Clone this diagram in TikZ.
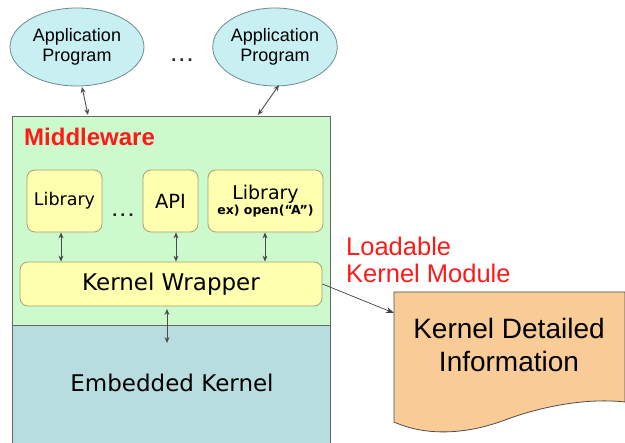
\documentclass[tikz,border=0pt]{standalone}
\usepackage{fontspec}
\setmainfont{Liberation Sans}
\newfontfamily\tahoma{DejaVu Sans}
\usetikzlibrary{arrows.meta,shapes.geometric}
\definecolor{mwgreen}{HTML}{CCFACC}
\definecolor{kblue}{HTML}{B8DDE0}
\definecolor{yel}{HTML}{FFFFB0}
\definecolor{yelborder}{HTML}{A8A070}
\definecolor{ecyan}{HTML}{C8F0F2}
\definecolor{eborder}{HTML}{6A8A90}
\definecolor{docorange}{HTML}{F9CB96}
\definecolor{lkred}{HTML}{FF1A1A}
\begin{document}
\begin{tikzpicture}[x=1pt,y=-1pt,
  app/.style={ellipse,draw=eborder,fill=ecyan,line width=0.8pt,minimum width=134pt,minimum height=78pt,inner sep=0pt,align=center,font=\fontsize{18}{20}\selectfont},
  ybox/.style={draw=yelborder,fill=yel,line width=0.8pt,rounded corners=8pt,inner sep=0pt,align=center},
  dbl/.style={{Stealth[length=6pt,width=5pt]}-{Stealth[length=6pt,width=5pt]},draw=black!70,line width=0.9pt},
  one/.style={-{Stealth[length=8pt,width=6pt]},draw=black!75,line width=0.7pt},
  dots/.style={font=\fontsize{18}{18}\selectfont\bfseries,inner sep=0pt,text=black!85}]
\useasboundingbox (0,0) rectangle (625,443);
% layers
\node[draw=black!60,fill=kblue,line width=0.8pt,minimum width=318pt,minimum height=124pt,inner sep=0pt,anchor=north west] (ek) at (12,325) {};
\node[draw=black!60,fill=mwgreen,line width=0.8pt,minimum width=318pt,minimum height=209pt,inner sep=0pt,anchor=north west] (mw) at (12,116) {};
\node[anchor=west,text=lkred,font=\fontsize{24}{26}\selectfont\bfseries,inner sep=0pt] (mwl) at (24,137) {Middleware};
\node[font=\tahoma\fontsize{23}{26}\selectfont] (ekl) at (172,383) {Embedded Kernel};
% applications
\node[app] (a1) at (77,47) {Application\\Program};
\node[app,minimum width=124pt] (a2) at (275,47) {Application\\Program};
\node[dots,anchor=base] (adots) at (182,62) {.\kern3pt.\kern3pt.};
% libraries
\node[ybox,minimum width=75pt,minimum height=62pt,font=\tahoma\fontsize{17.5}{20}\selectfont] (l1) at (64.5,201) {Library};
\node[dots,anchor=base] (ldots) at (123,217) {.\kern3pt.\kern3pt.};
\node[ybox,minimum width=55pt,minimum height=62pt,font=\tahoma\fontsize{19.5}{22}\selectfont] (api) at (170.5,201) {API};
\node[ybox,minimum width=115pt,minimum height=62pt] (l2) at (265.5,201) {{\tahoma\fontsize{19}{21}\selectfont Library}\\[1pt]{\tahoma\fontsize{12.5}{14}\selectfont\bfseries ex) open(“A”)}};
\node[ybox,minimum width=302pt,minimum height=44pt,font=\tahoma\fontsize{23}{26}\selectfont] (kw) at (171,284) {Kernel Wrapper};
% document
\draw[draw=black!70,fill=docorange,line width=0.8pt] (394,292) -- (625,292) -- (625,402)
  .. controls (590,398) and (545,405) .. (505,420)
  .. controls (465,435) and (425,436) .. (394,422) -- cycle;
\coordinate (doc) at (394,313);
\node[align=center,font=\fontsize{28}{33}\selectfont] (docl) at (509,345) {Kernel Detailed\\Information};
\node[anchor=north west,align=left,text=lkred,font=\fontsize{25.5}{27}\selectfont,inner sep=0pt] (lkm) at (346,237) {Loadable\\Kernel Module};
% connectors
\draw[dbl] (82,87) -- (88,115);
\draw[dbl] (279,85) -- (258,115);
\draw[dbl] (l1.south -| 61,0) -- (kw.north -| 61,0);
\draw[dbl] (api.south -| 176,0) -- (kw.north -| 176,0);
\draw[dbl] (l2.south -| 265,0) -- (kw.north -| 265,0);
\draw[dbl] (167,309) -- (167,343);
\draw[one] (kw.east) -- (doc);
\end{tikzpicture}
\end{document}
